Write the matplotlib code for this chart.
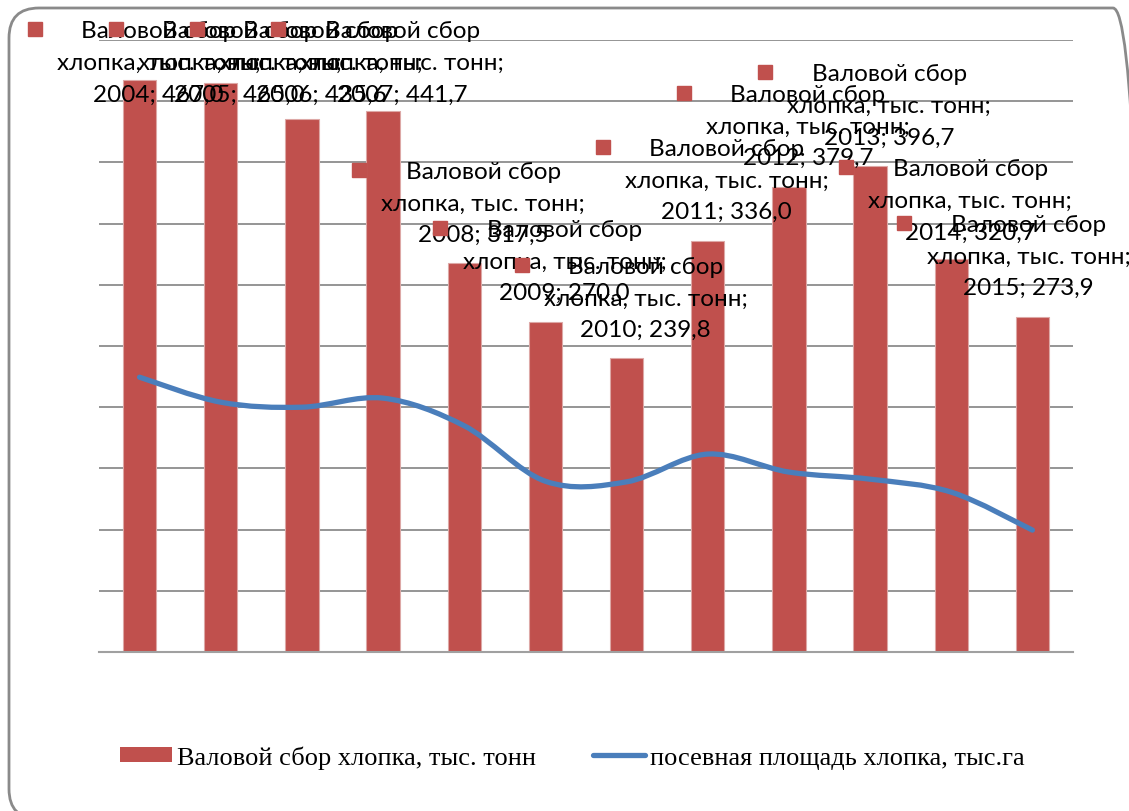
import matplotlib
matplotlib.use("Agg")
import matplotlib.pyplot as plt
import matplotlib.transforms as mtransforms
from matplotlib.patches import FancyBboxPatch, Patch, PathPatch
from matplotlib.lines import Line2D
from matplotlib.path import Path
import numpy as np

# Данные
years = [2004, 2005, 2006, 2007, 2008, 2009, 2010, 2011, 2012, 2013, 2014, 2015]
valovoy_sbor = [467.0, 465.0, 435.6, 441.7, 317.5, 270.0, 239.8, 336.0, 379.7, 396.7, 320.7, 273.9]
posevnaya_ploshad = [224.5, 204.1, 200.0, 207.4, 184.8, 139.5, 139.0, 161.7, 147.0, 141.2, 130.6, 99.6]

label_bar = "Валовой сбор хлопка, тыс. тонн"
label_line = "посевная площадь хлопка, тыс.га"

# положение подписей (средняя строка, в единицах оси) и сдвиг по x в пикселях
label_y = [481.7, 481.7, 481.7, 481.7, 366.6, 319.2, 289.0, 385.4, 429.5, 446.6, 369.0, 323.3]
label_dx = [19, 19, 19, 19, 19, 19, 19, 19, 19, 19, 19, -4]

bar_color = "#C0504D"
line_color = "#4A7EBB"
grid_color = "#8C8C8C"

fig = plt.figure(figsize=(11.29, 8.12), dpi=100)
ax = fig.add_axes([99 / 1129, 159 / 812, 974 / 1129, 612 / 812])

x = np.arange(len(years))
ax.bar(x, valovoy_sbor, width=0.41, color=bar_color, edgecolor="#DDA8A6",
       linewidth=0.8, zorder=2)

# сглаженная линия (кривые Безье как в Excel)
pts = np.column_stack([x, posevnaya_ploshad])
verts = [tuple(pts[0])]
codes = [Path.MOVETO]
for i in range(len(pts) - 1):
    p0 = pts[i - 1] if i > 0 else pts[i]
    p1 = pts[i]
    p2 = pts[i + 1]
    p3 = pts[i + 2] if i + 2 < len(pts) else pts[i + 1]
    c1 = p1 + (p2 - p0) / 6
    c2 = p2 - (p3 - p1) / 6
    verts += [tuple(c1), tuple(c2), tuple(p2)]
    codes += [Path.CURVE4] * 3
ax.add_patch(PathPatch(Path(verts, codes), facecolor="none", edgecolor=line_color,
                       linewidth=3.8, capstyle="round", zorder=3))

ax.set_xlim(-0.5, len(years) - 0.5)
ax.set_ylim(0, 500)
ax.set_yticks(np.arange(0, 501, 50))
ax.set_xticks([])
ax.tick_params(axis="y", length=0, labelleft=False)
ax.grid(axis="y", color=grid_color, linewidth=1.3, zorder=0)
ax.set_axisbelow(True)
for side in ["left", "right", "top"]:
    ax.spines[side].set_visible(False)
ax.spines["bottom"].set_color("#A0A0A0")
ax.spines["bottom"].set_linewidth(1.5)
ax.patch.set_alpha(0)

# подписи данных с маркером
for i, yr in enumerate(years):
    val = f"{valovoy_sbor[i]:.1f}".replace(".", ",")
    txt = f"Валовой сбор\nхлопка, тыс. тонн;\n{yr}; {val}"
    tr = mtransforms.offset_copy(ax.transData, fig=fig, x=label_dx[i] * 0.72, y=0, units="points")
    ax.text(x[i], label_y[i], txt, transform=tr, ha="center", va="center",
            fontsize=17.5, family="Lato", linespacing=1.62, zorder=5, clip_on=False)
    trm = mtransforms.offset_copy(ax.transData, fig=fig, x=(label_dx[i] - 124) * 0.72,
                                  y=33 * 0.72, units="points")
    ax.plot([x[i]], [label_y[i]], marker="s", markersize=9.5, color=bar_color,
            linestyle="none", transform=trm, zorder=5, clip_on=False)

# легенда
handles = [Patch(facecolor=bar_color, edgecolor="none"),
           Line2D([0], [0], color=line_color, linewidth=3.8, solid_capstyle="round")]
fig.legend(handles, [label_bar, label_line], loc="center",
           bbox_to_anchor=(572 / 1129, 54 / 812), ncol=2, frameon=False,
           prop={"family": "Liberation Serif", "size": 19},
           handlelength=1.97, handleheight=0.5, handletextpad=0.2, columnspacing=2.15)

# рамка со скруглёнными углами
frame = FancyBboxPatch((9, -8), 1134, 811, boxstyle="round,pad=0,rounding_size=30",
                       transform=None, facecolor="none", edgecolor="#8A8A8A",
                       linewidth=2.0, zorder=10)
fig.patches.append(frame)

fig.savefig("out.png", dpi=100)
